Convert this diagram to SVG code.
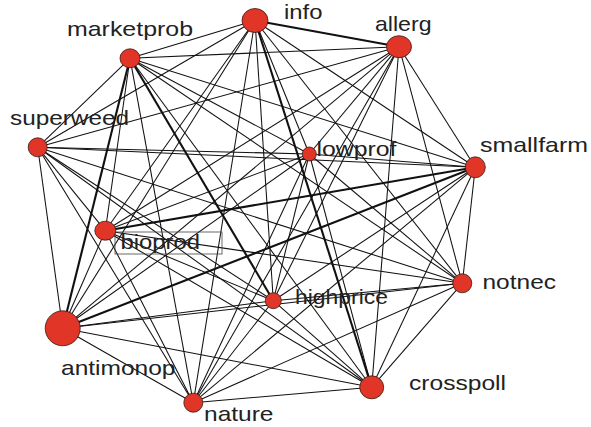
<svg xmlns="http://www.w3.org/2000/svg" width="591" height="427" viewBox="0 0 591 427">
<style>
.e line{stroke:#111;stroke-width:1.05;}
.e line.t{stroke-width:2.1;}
.n ellipse{fill:#e03527;stroke:#3a1a14;stroke-width:0.8;}
text{font-family:"Liberation Sans",Arial,Helvetica,sans-serif;font-size:21px;fill:#222;}
</style>
<rect width="591" height="427" fill="#fff"/>
<g id="connectors" class="e">
<line x1="255" y1="20.5" x2="130" y2="58.3"/>
<line x1="255" y1="20.5" x2="37.7" y2="147.3"/>
<line class="t" x1="255" y1="20.5" x2="399" y2="46.7"/>
<line x1="255" y1="20.5" x2="309.3" y2="154"/>
<line x1="255" y1="20.5" x2="475.3" y2="167.3"/>
<line x1="255" y1="20.5" x2="105.3" y2="230.7"/>
<line x1="255" y1="20.5" x2="273.3" y2="300.7"/>
<line x1="255" y1="20.5" x2="62.7" y2="328.3"/>
<line x1="255" y1="20.5" x2="193.3" y2="402.7"/>
<line x1="255" y1="20.5" x2="462.3" y2="283.3"/>
<line class="t" x1="255" y1="20.5" x2="371.7" y2="387.3"/>
<line x1="130" y1="58.3" x2="37.7" y2="147.3"/>
<line x1="130" y1="58.3" x2="399" y2="46.7"/>
<line x1="130" y1="58.3" x2="309.3" y2="154"/>
<line x1="130" y1="58.3" x2="475.3" y2="167.3"/>
<line x1="130" y1="58.3" x2="105.3" y2="230.7"/>
<line class="t" x1="130" y1="58.3" x2="273.3" y2="300.7"/>
<line class="t" x1="130" y1="58.3" x2="62.7" y2="328.3"/>
<line x1="130" y1="58.3" x2="193.3" y2="402.7"/>
<line x1="130" y1="58.3" x2="462.3" y2="283.3"/>
<line x1="130" y1="58.3" x2="371.7" y2="387.3"/>
<line x1="37.7" y1="147.3" x2="399" y2="46.7"/>
<line x1="37.7" y1="147.3" x2="309.3" y2="154"/>
<line x1="37.7" y1="147.3" x2="475.3" y2="167.3"/>
<line x1="37.7" y1="147.3" x2="105.3" y2="230.7"/>
<line x1="37.7" y1="147.3" x2="273.3" y2="300.7"/>
<line x1="37.7" y1="147.3" x2="62.7" y2="328.3"/>
<line x1="37.7" y1="147.3" x2="193.3" y2="402.7"/>
<line x1="37.7" y1="147.3" x2="462.3" y2="283.3"/>
<line x1="37.7" y1="147.3" x2="371.7" y2="387.3"/>
<line x1="399" y1="46.7" x2="309.3" y2="154"/>
<line x1="399" y1="46.7" x2="475.3" y2="167.3"/>
<line x1="399" y1="46.7" x2="105.3" y2="230.7"/>
<line x1="399" y1="46.7" x2="273.3" y2="300.7"/>
<line x1="399" y1="46.7" x2="62.7" y2="328.3"/>
<line x1="399" y1="46.7" x2="193.3" y2="402.7"/>
<line x1="399" y1="46.7" x2="462.3" y2="283.3"/>
<line x1="399" y1="46.7" x2="371.7" y2="387.3"/>
<line x1="309.3" y1="154" x2="475.3" y2="167.3"/>
<line x1="309.3" y1="154" x2="105.3" y2="230.7"/>
<line x1="309.3" y1="154" x2="273.3" y2="300.7"/>
<line x1="309.3" y1="154" x2="62.7" y2="328.3"/>
<line x1="309.3" y1="154" x2="193.3" y2="402.7"/>
<line x1="309.3" y1="154" x2="462.3" y2="283.3"/>
<line x1="309.3" y1="154" x2="371.7" y2="387.3"/>
<line class="t" x1="475.3" y1="167.3" x2="105.3" y2="230.7"/>
<line x1="475.3" y1="167.3" x2="273.3" y2="300.7"/>
<line class="t" x1="475.3" y1="167.3" x2="62.7" y2="328.3"/>
<line x1="475.3" y1="167.3" x2="193.3" y2="402.7"/>
<line x1="475.3" y1="167.3" x2="462.3" y2="283.3"/>
<line x1="475.3" y1="167.3" x2="371.7" y2="387.3"/>
<line x1="105.3" y1="230.7" x2="273.3" y2="300.7"/>
<line x1="105.3" y1="230.7" x2="62.7" y2="328.3"/>
<line x1="105.3" y1="230.7" x2="193.3" y2="402.7"/>
<line x1="105.3" y1="230.7" x2="462.3" y2="283.3"/>
<line x1="105.3" y1="230.7" x2="371.7" y2="387.3"/>
<line x1="273.3" y1="300.7" x2="62.7" y2="328.3"/>
<line x1="273.3" y1="300.7" x2="193.3" y2="402.7"/>
<line x1="273.3" y1="300.7" x2="462.3" y2="283.3"/>
<line x1="273.3" y1="300.7" x2="371.7" y2="387.3"/>
<line x1="62.7" y1="328.3" x2="193.3" y2="402.7"/>
<line x1="62.7" y1="328.3" x2="462.3" y2="283.3"/>
<line x1="62.7" y1="328.3" x2="371.7" y2="387.3"/>
<line x1="193.3" y1="402.7" x2="462.3" y2="283.3"/>
<line x1="193.3" y1="402.7" x2="371.7" y2="387.3"/>
<line x1="462.3" y1="283.3" x2="371.7" y2="387.3"/>
</g>
<g id="info" class="n"><ellipse cx="255" cy="20.5" rx="13" ry="12"/><text x="284" y="18.5" textLength="38.5" lengthAdjust="spacingAndGlyphs">info</text></g>
<g id="marketprob" class="n"><ellipse cx="130" cy="58.3" rx="10" ry="9.5"/><text x="67" y="36" textLength="126" lengthAdjust="spacingAndGlyphs">marketprob</text></g>
<g id="superweed" class="n"><ellipse cx="37.7" cy="147.3" rx="9.5" ry="9.5"/><text x="10" y="125" textLength="119" lengthAdjust="spacingAndGlyphs">superweed</text></g>
<g id="allerg" class="n"><ellipse cx="399" cy="46.7" rx="12.5" ry="11"/><text x="375" y="31" textLength="56.5" lengthAdjust="spacingAndGlyphs">allerg</text></g>
<g id="lowprof" class="n"><ellipse cx="309.3" cy="154" rx="7" ry="7"/><text x="316.5" y="156" textLength="80" lengthAdjust="spacingAndGlyphs">lowprof</text></g>
<g id="smallfarm" class="n"><ellipse cx="475.3" cy="167.3" rx="10" ry="10.5"/><text x="480" y="151.5" textLength="108" lengthAdjust="spacingAndGlyphs">smallfarm</text></g>
<g id="bioprod" class="n"><rect x="115" y="232" width="107" height="22" fill="none" stroke="#444" stroke-width="0.8"/><ellipse cx="105.3" cy="230.7" rx="10.5" ry="9.5"/><text x="120.5" y="249" textLength="79.5" lengthAdjust="spacingAndGlyphs">bioprod</text></g>
<g id="highprice" class="n"><ellipse cx="273.3" cy="300.7" rx="8" ry="8"/><text x="295" y="303.5" textLength="93" lengthAdjust="spacingAndGlyphs">highprice</text></g>
<g id="antimonop" class="n"><ellipse cx="62.7" cy="328.3" rx="17.5" ry="17.5"/><text x="61" y="374.5" textLength="114.5" lengthAdjust="spacingAndGlyphs">antimonop</text></g>
<g id="nature" class="n"><ellipse cx="193.3" cy="402.7" rx="9.5" ry="9.5"/><text x="204" y="421" textLength="69.5" lengthAdjust="spacingAndGlyphs">nature</text></g>
<g id="notnec" class="n"><ellipse cx="462.3" cy="283.3" rx="9.5" ry="9.5"/><text x="482.5" y="288.5" textLength="73.5" lengthAdjust="spacingAndGlyphs">notnec</text></g>
<g id="crosspoll" class="n"><ellipse cx="371.7" cy="387.3" rx="12" ry="11.5"/><text x="409" y="390" textLength="97" lengthAdjust="spacingAndGlyphs">crosspoll</text></g>
</svg>
